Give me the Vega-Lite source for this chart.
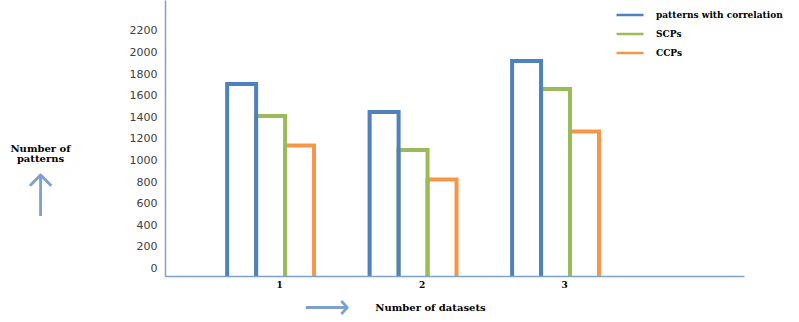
{
  "$schema": "https://vega.github.io/schema/vega-lite/v6.json",
  "autosize": "none",
  "width": 579,
  "height": 276,
  "padding": {"left": 165, "top": 0, "right": 55, "bottom": 46},
  "background": "white",
  "title": {
    "text": ["Number of", "patterns"],
    "subtitle": "↑",
    "orient": "top",
    "anchor": "middle",
    "frame": "group",
    "font": "DejaVu Serif",
    "fontSize": 10,
    "fontWeight": "bold",
    "color": "#000000",
    "lineHeight": 10,
    "subtitleFont": "DejaVu Sans",
    "subtitleFontSize": 58,
    "subtitleFontWeight": 200,
    "subtitleColor": "#7f9fd1",
    "subtitlePadding": 6,
    "dx": -414,
    "dy": 232
  },
  "data": {
    "values": [
      {"dataset": "1", "series": "CCPs", "patterns": 1208},
      {"dataset": "2", "series": "CCPs", "patterns": 894},
      {"dataset": "3", "series": "CCPs", "patterns": 1338},
      {"dataset": "1", "series": "SCPs", "patterns": 1481},
      {"dataset": "2", "series": "SCPs", "patterns": 1167},
      {"dataset": "3", "series": "SCPs", "patterns": 1731},
      {"dataset": "1", "series": "patterns with correlation", "patterns": 1778},
      {"dataset": "2", "series": "patterns with correlation", "patterns": 1518},
      {"dataset": "3", "series": "patterns with correlation", "patterns": 1991}
    ]
  },
  "mark": {"type": "bar", "filled": false, "clip": true, "strokeWidth": 4},
  "encoding": {
    "x": {
      "field": "dataset",
      "type": "nominal",
      "scale": {"domain": ["1", "2", "3"], "paddingInner": 0.39, "paddingOuter": 0.727, "align": 0.3},
      "axis": {
        "zindex": 1,
        "title": "Number of datasets",
        "titleFont": "DejaVu Serif",
        "titleFontSize": 10,
        "titleFontWeight": "bold",
        "titleColor": "#000000",
        "titleX": 265,
        "titleY": 31,
        "titleAlign": "center",
        "titleBaseline": "middle",
        "labelAngle": 0,
        "labelFont": "DejaVu Serif",
        "labelFontSize": 9,
        "labelFontWeight": "bold",
        "labelColor": "#000000",
        "labelPadding": 4,
        "labelOffset": 9,
        "ticks": false,
        "grid": false,
        "domainColor": "#7f9fd1",
        "domainWidth": 1.5
      }
    },
    "xOffset": {
      "field": "series",
      "type": "nominal",
      "scale": {"domain": ["patterns with correlation", "SCPs", "CCPs"], "paddingInner": 0, "paddingOuter": 0}
    },
    "y": {
      "field": "patterns",
      "type": "quantitative",
      "scale": {"domain": [0, 2555], "nice": false, "zero": true},
      "axis": {
        "zindex": 1,
        "values": [0, 200, 400, 600, 800, 1000, 1200, 1400, 1600, 1800, 2000, 2200],
        "format": "d",
        "title": "⟶",
        "titleAngle": 0,
        "titleX": 161,
        "titleY": 307,
        "titleAlign": "center",
        "titleBaseline": "middle",
        "titleFont": "DejaVu Sans",
        "titleFontSize": 32,
        "titleFontWeight": 200,
        "titleColor": "#7f9fd1",
        "labelFont": "DejaVu Sans",
        "labelFontSize": 11,
        "labelColor": "#404040",
        "labelPadding": 8,
        "labelOffset": -7.5,
        "ticks": false,
        "grid": false,
        "domainColor": "#7f9fd1",
        "domainWidth": 1.5
      }
    },
    "y2": {"datum": -100},
    "color": {
      "field": "series",
      "type": "nominal",
      "scale": {"domain": ["patterns with correlation", "SCPs", "CCPs"], "range": ["#4f81bd", "#9bbb59", "#f79646"]},
      "legend": {
        "orient": "none",
        "legendX": 450,
        "legendY": 6,
        "title": null,
        "padding": 0,
        "symbolType": "stroke",
        "symbolSize": 729,
        "symbolStrokeWidth": 2.5,
        "clipHeight": 18,
        "rowPadding": 1,
        "labelOffset": 11,
        "labelFont": "DejaVu Serif",
        "labelFontSize": 9,
        "labelFontWeight": "bold",
        "labelColor": "#000000",
        "labelLimit": 300
      }
    }
  },
  "config": {"view": {"stroke": null}, "legend": {"symbolStrokeWidth": 2.5}}
}
